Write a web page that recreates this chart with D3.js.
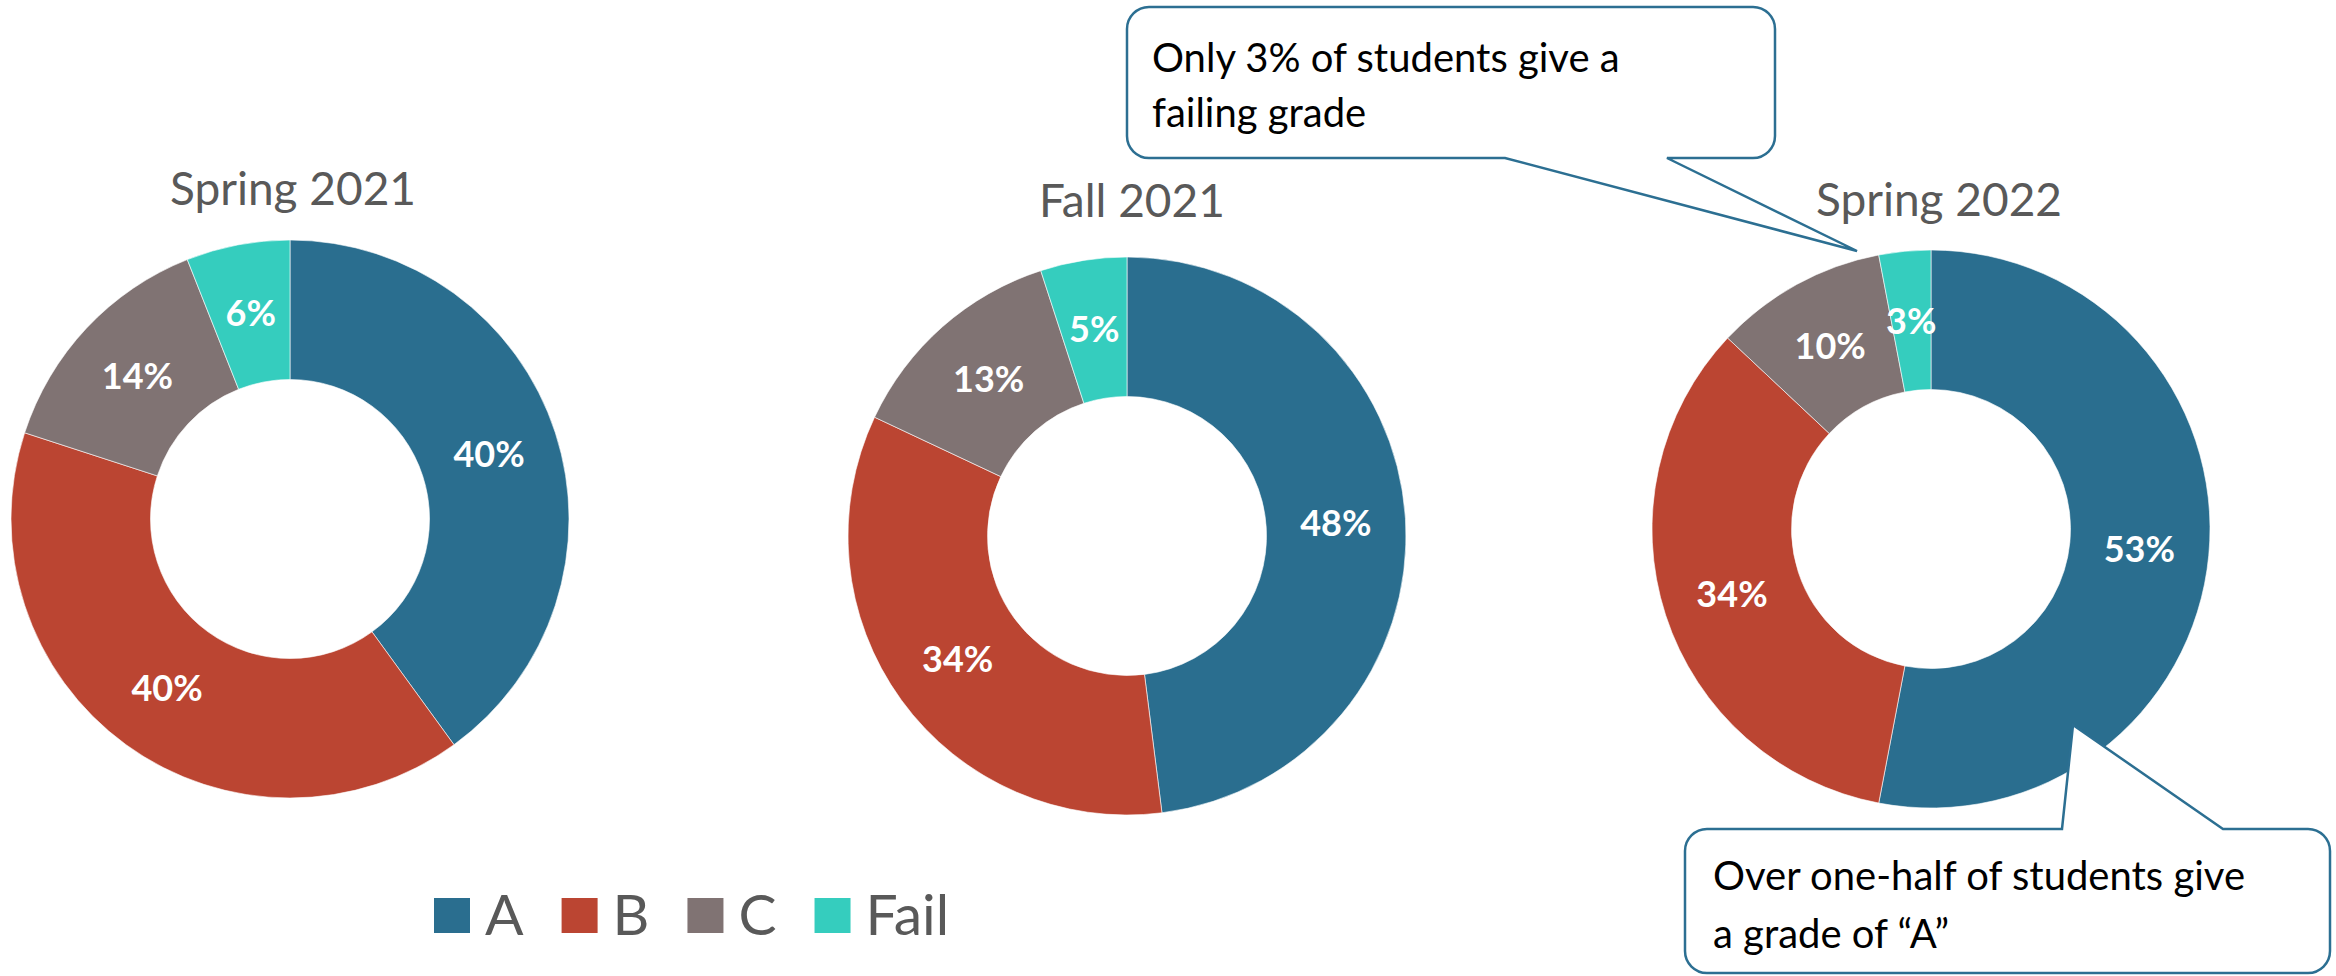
<!DOCTYPE html>
<html>
<head>
<meta charset="utf-8">
<script src="https://cdn.jsdelivr.net/npm/d3@7"></script>
<style>
  html, body { margin: 0; padding: 0; background: #fff; }
  svg { display: block; font-family: Lato, "Open Sans", sans-serif; }
</style>
</head>
<body>
<div id="chart"></div>
<script>
var categories = ['A', 'B', 'C', 'Fail'];
var terms = ['Spring 2021', 'Fall 2021', 'Spring 2022'];
var spring2021 = [40, 40, 14, 6];
var fall2021 = [48, 34, 13, 5];
var spring2022 = [53, 34, 10, 3];
var series = [spring2021, fall2021, spring2022];

var colors = ['#2A6E8F', '#BB4532', '#807373', '#35CDBE'];

var width = 2336,
    height = 976,
    outerR = 279,
    innerR = 139.5;

// donut centres and title positions
var centers = [[290, 519], [1127, 536], [1931, 529]];
var titlePos = [[293, 205], [1132, 217], [1939, 216]];

var svg = d3.select('#chart').append('svg')
  .attr('width', width)
  .attr('height', height);

var color = d3.scaleOrdinal().domain(categories).range(colors);

var pie = d3.pie().sort(null).value(function(d) { return d.value; });
var arc = d3.arc().innerRadius(innerR).outerRadius(outerR);

series.forEach(function(values, i) {
  var data = values.map(function(v, j) { return { cat: categories[j], value: v }; });
  var g = svg.append('g')
    .attr('transform', 'translate(' + centers[i][0] + ',' + centers[i][1] + ')');

  g.selectAll('path')
    .data(pie(data))
    .enter().append('path')
    .attr('d', arc)
    .attr('fill', function(d) { return color(d.data.cat); })
    .attr('stroke', '#fff')
    .attr('stroke-width', 0.6);

  g.selectAll('text')
    .data(pie(data))
    .enter().append('text')
    .attr('transform', function(d) { return 'translate(' + arc.centroid(d) + ')'; })
    .attr('text-anchor', 'middle')
    .attr('dy', '0.36em')
    .attr('fill', '#fff')
    .attr('font-weight', 700)
    .attr('font-size', 36)
    .text(function(d) { return d.data.value + '%'; });

  svg.append('text')
    .attr('x', titlePos[i][0])
    .attr('y', titlePos[i][1])
    .attr('text-anchor', 'middle')
    .attr('fill', '#595959')
    .attr('font-size', 46)
    .text(terms[i]);
});

// legend
var legend = svg.append('g');
var lx = 434;
categories.forEach(function(c) {
  legend.append('rect')
    .attr('x', lx).attr('y', 898)
    .attr('width', 36).attr('height', 35)
    .attr('fill', color(c));
  var t = legend.append('text')
    .attr('x', lx + 51).attr('y', 935)
    .attr('fill', '#595959')
    .attr('font-size', 57)
    .text(c);
  lx += 51 + t.node().getComputedTextLength() + 38;
});

// callouts
function callout(box, tail, lines, textX, baselines) {
  var x0 = box[0], y0 = box[1], x1 = box[2], y1 = box[3], r = 22;
  var p = d3.path();
  p.moveTo(x0 + r, y0);
  if (tail.side === 'top') {
    p.lineTo(tail.a, y0); p.lineTo(tail.tip[0], tail.tip[1]); p.lineTo(tail.b, y0);
  }
  p.lineTo(x1 - r, y0);
  p.arcTo(x1, y0, x1, y0 + r, r);
  p.lineTo(x1, y1 - r);
  p.arcTo(x1, y1, x1 - r, y1, r);
  if (tail.side === 'bottom') {
    p.lineTo(tail.b, y1); p.lineTo(tail.tip[0], tail.tip[1]); p.lineTo(tail.a, y1);
  }
  p.lineTo(x0 + r, y1);
  p.arcTo(x0, y1, x0, y1 - r, r);
  p.lineTo(x0, y0 + r);
  p.arcTo(x0, y0, x0 + r, y0, r);
  p.closePath();

  svg.append('path')
    .attr('d', p.toString())
    .attr('fill', '#fff')
    .attr('stroke', '#2C6F92')
    .attr('stroke-width', 2.5)
    .attr('stroke-linejoin', 'miter');

  lines.forEach(function(l, k) {
    svg.append('text')
      .attr('x', textX)
      .attr('y', baselines[k])
      .attr('fill', '#000')
      .attr('font-size', 40)
      .text(l);
  });
}

callout([1127, 7, 1775, 158],
  { side: 'bottom', a: 1505, b: 1667, tip: [1857, 251] },
  ['Only 3% of students give a', 'failing grade'], 1152, [72, 127]);

callout([1685, 829, 2330, 973],
  { side: 'top', a: 2062, b: 2223, tip: [2073, 725] },
  ['Over one-half of students give', 'a grade of \u201CA\u201D'], 1713, [890, 948]);
</script>
</body>
</html>
